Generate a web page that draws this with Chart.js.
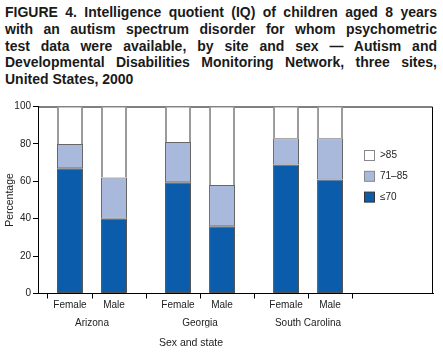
<!DOCTYPE html>
<html>
<head>
<meta charset="utf-8">
<script src="https://cdn.jsdelivr.net/npm/chart.js@4.4.1/dist/chart.umd.min.js"></script>
<style>
  html, body { margin: 0; padding: 0; background: #fff; }
  body { width: 443px; height: 352px; position: relative; overflow: hidden; font-family: "Liberation Sans", Arial, sans-serif; }
  #title { position: absolute; left: 5px; top: 4px; width: 432px; font-weight: bold; font-size: 14px; line-height: 16.8px; color: #1a1a1a; }
  #title span { display: block; white-space: nowrap; text-align: justify; text-align-last: justify; }
  #title span.last { text-align-last: left; }
  #wrap { position: absolute; left: 0; top: 95px; width: 443px; height: 257px; }
</style>
</head>
<body>
<div id="title">
  <span>FIGURE 4. Intelligence quotient (IQ) of children aged 8 years</span>
  <span>with an autism spectrum disorder for whom psychometric</span>
  <span>test data were available, by site and sex — Autism and</span>
  <span>Developmental Disabilities Monitoring Network, three sites,</span>
  <span class="last">United States, 2000</span>
</div>
<div id="wrap"><canvas id="iqChart"></canvas></div>
<script>
// Data (percent of children, by IQ group)
const states = ['Arizona', 'Georgia', 'South Carolina'];
const sexes = ['Female', 'Male'];
const femaleLow = [67, 59.5, 69];     // <=70
const femaleMid = [13, 21.5, 14];     // 71-85
const femaleHigh = [20, 19, 17];      // >85
const maleLow = [40, 36, 61];
const maleMid = [22, 22, 22];
const maleHigh = [38, 42, 17];
const yTicks = [0, 20, 40, 60, 80, 100];

const groupLabels = ['≤70', '71–85', '>85'];
const fills = ['#0b5cab', '#a9b9dc', '#ffffff'];
const borders = ['#555555', '#666666', '#9a9a9a'];

const CAT_PCT = 0.815;
const X_MAX = 3.157;   // leaves room on the right for the key

const toPoints = arr => arr.map((v, i) => ({ x: i, y: v }));

const datasets = [];
[[femaleLow, femaleMid, femaleHigh], [maleLow, maleMid, maleHigh]].forEach((series, s) => {
  series.forEach((vals, k) => {
    datasets.push({
      label: groupLabels[k],
      data: toPoints(vals),
      stack: sexes[s],
      backgroundColor: fills[k],
      borderColor: borders[k],
      borderWidth: k === 2 ? { top: 1, left: 2, right: 2, bottom: 0 } : 1,
      borderSkipped: false,
      xAxisID: 'x'
    });
  });
});

const font = { family: '"Liberation Sans", Arial, sans-serif', size: 10 };

// frame on top/right, key and bottom title
const extras = {
  id: 'extras',
  beforeDatasetsDraw(chart) {
    const { ctx, chartArea: a } = chart;
    ctx.save();
    ctx.strokeStyle = '#000';
    ctx.lineWidth = 1;
    ctx.beginPath();
    ctx.moveTo(a.left, a.top + 0.5);
    ctx.lineTo(a.right - 0.5, a.top + 0.5);
    ctx.lineTo(a.right - 0.5, a.bottom);
    ctx.stroke();
    ctx.restore();
  },
  afterDraw(chart) {
    const { ctx } = chart;
    ctx.save();
    ctx.font = '10px ' + font.family;
    ctx.textBaseline = 'middle';
    const order = [2, 1, 0];
    order.forEach((k, row) => {
      const y = 55 + row * 20.8;
      ctx.fillStyle = fills[k];
      ctx.fillRect(364.5, y + 0.5, 10, 10);
      ctx.strokeStyle = k === 0 ? '#333' : '#888';
      ctx.lineWidth = 1;
      ctx.strokeRect(364.5, y + 0.5, 10, 10);
      ctx.fillStyle = '#222';
      ctx.fillText(groupLabels[k], 380, y + 5.5);
    });
    ctx.textAlign = 'center';
    ctx.font = '10.5px ' + font.family;
    ctx.fillText('Sex and state', 191, 248);
    ctx.restore();
  }
};

new Chart(document.getElementById('iqChart'), {
  type: 'bar',
  data: { datasets },
  options: {
    responsive: true,
    maintainAspectRatio: false,
    animation: false,
    categoryPercentage: CAT_PCT,
    barPercentage: 0.59,
    layout: { padding: { top: 11.5, right: 10, bottom: 24.5, left: 0 } },
    plugins: { legend: { display: false }, tooltip: { enabled: false } },
    scales: {
      y: {
        stacked: true,
        min: 0,
        max: 100,
        afterBuildTicks: scale => { scale.ticks = yTicks.map(v => ({ value: v })); },
        afterFit: scale => { scale.width = 38; },
        ticks: { font, color: '#222', padding: 2 },
        grid: { drawOnChartArea: false, tickLength: 5, color: '#000' },
        border: { color: '#000' },
        title: { display: true, text: 'Percentage', font: { ...font, size: 10.5 }, color: '#222', padding: { top: 4, bottom: 0 } }
      },
      xs: {
        type: 'linear',
        position: 'bottom',
        weight: 1,
        offset: false,
        min: -0.5,
        max: X_MAX,
        afterBuildTicks: scale => {
          const d = CAT_PCT / 4;
          scale.ticks = states.flatMap((s, i) => [{ value: i - d }, { value: i + d }]);
        },
        afterFit: scale => { scale.height = 18; },
        ticks: { font, color: '#222', padding: 1, maxRotation: 0, autoSkip: false,
          callback: (v, i) => sexes[i % 2] },
        grid: { drawOnChartArea: false, tickLength: 5, color: '#000' },
        border: { color: '#000' }
      },
      x: {
        type: 'linear',
        position: 'bottom',
        weight: 2,
        offset: false,
        stacked: true,
        min: -0.5,
        max: X_MAX,
        afterBuildTicks: scale => { scale.ticks = states.map((s, i) => ({ value: i })); },
        afterFit: scale => { scale.height = 16; },
        ticks: { font, color: '#222', padding: 6, maxRotation: 0, autoSkip: false,
          callback: (v, i) => states[i] },
        grid: { display: false, drawTicks: false },
        border: { display: false }
      }
    }
  },
  plugins: [extras]
});
</script>
</body>
</html>
